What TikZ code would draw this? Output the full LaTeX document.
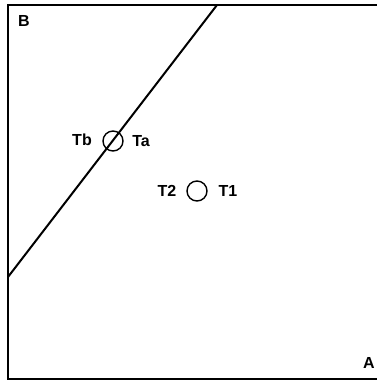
\documentclass[tikz,border=0pt]{standalone}
\usepackage{fontspec}
\setmainfont{Liberation Sans}
\usepackage{tikz}
\usetikzlibrary{positioning}

\begin{document}
\begin{tikzpicture}[x=1pt,y=-1pt,
    lbl/.style={font=\fontsize{16}{18}\selectfont\bfseries,inner sep=0pt},
    probe/.style={draw,circle,line width=1.4pt,minimum size=20pt,inner sep=0pt}]
        \useasboundingbox (0,0) rectangle (376,381);
        \draw[line width=2.6pt] (378,5) -- (8,5) -- (8,379) -- (378,379);
        \coordinate (lo) at (8,277);
        \coordinate (hi) at (217,5);
        \draw[line width=2pt] (lo) -- (hi);
        \node[probe] (pa) at (113,141) {};
        \node[probe] (pb) at (197,191) {};
        \node[lbl] (tb) at (82,140) {Tb};
        \node[lbl] (ta) at (141,141) {Ta};
        \node[lbl] (t2) at (167,191) {T2};
        \node[lbl] (t1) at (228,191) {T1};
        \node[lbl] (b) at (24,21) {B};
        \node[lbl] (a) at (369,363) {A};
      \end{tikzpicture}
\end{document}
